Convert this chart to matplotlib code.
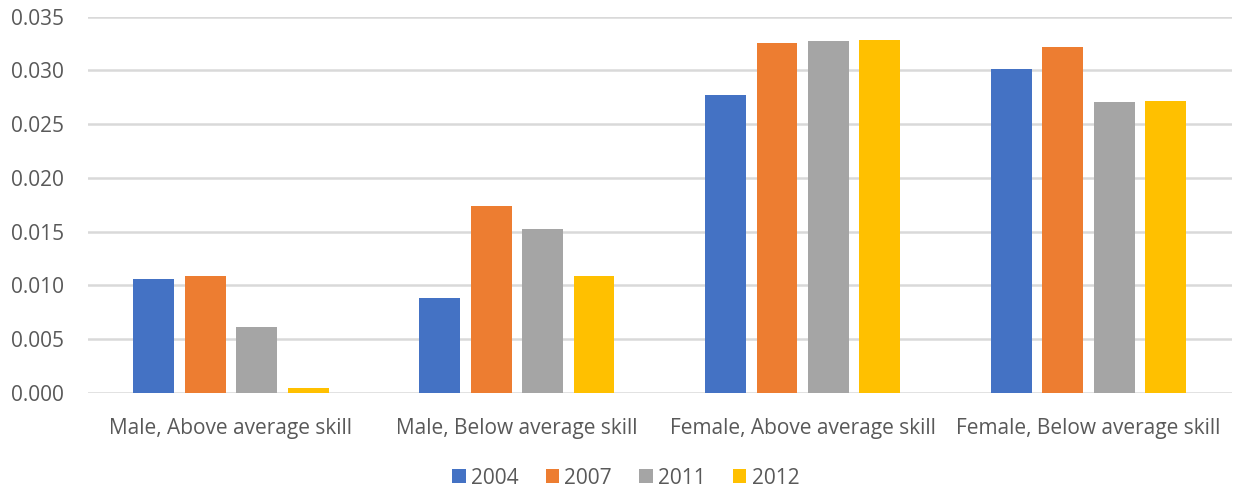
import numpy as np
import matplotlib.pyplot as plt

plt.rcParams['font.family'] = ['Open Sans', 'DejaVu Sans']

categories = ['Male, Above average skill', 'Male, Below average skill',
              'Female, Above average skill', 'Female, Below average skill']
years = ['2004', '2007', '2011', '2012']
v2004 = [0.0106, 0.0088, 0.0277, 0.0301]
v2007 = [0.0109, 0.0174, 0.0326, 0.0322]
v2011 = [0.0061, 0.0152, 0.0327, 0.0271]
v2012 = [0.0004, 0.0109, 0.0328, 0.0272]
colors = ['#4472C4', '#ED7D31', '#A5A5A5', '#FFC000']

fig = plt.figure(figsize=(12.39, 4.93), dpi=100)
ax = fig.add_axes([0.071, 0.2035, 0.923, 0.7625])

x = np.arange(len(categories))
width = 0.143
step = 0.18
series = [v2004, v2007, v2011, v2012]
for k, (vals, yr, c) in enumerate(zip(series, years, colors)):
    ax.bar(x + (k - 1.5) * step, vals, width, color=c, label=yr, zorder=3)

ax.set_xlim(-0.5, 3.5)
ax.set_ylim(0, 0.035)
ax.set_yticks(np.arange(0, 0.0351, 0.005))
ax.set_yticklabels([f'{t:.3f}' for t in np.arange(0, 0.0351, 0.005)])
ax.set_xticks(x)
ax.set_xticklabels(categories)
ax.tick_params(axis='both', length=0, colors='#595959', labelsize=15)
ax.tick_params(axis='y', pad=17)
ax.tick_params(axis='x', pad=18)
ax.grid(axis='y', color='#d9d9d9', linewidth=1.8, zorder=0)
for s in ax.spines.values():
    s.set_visible(False)

leg = fig.legend(*ax.get_legend_handles_labels(), loc='center',
                 bbox_to_anchor=(0.505, 0.03), ncol=4,
                 frameon=False, fontsize=15, handlelength=0.65, handleheight=0.65,
                 handletextpad=0.25, columnspacing=1.3)
for t in leg.get_texts():
    t.set_color('#595959')

fig.savefig('out.png', dpi=100)
